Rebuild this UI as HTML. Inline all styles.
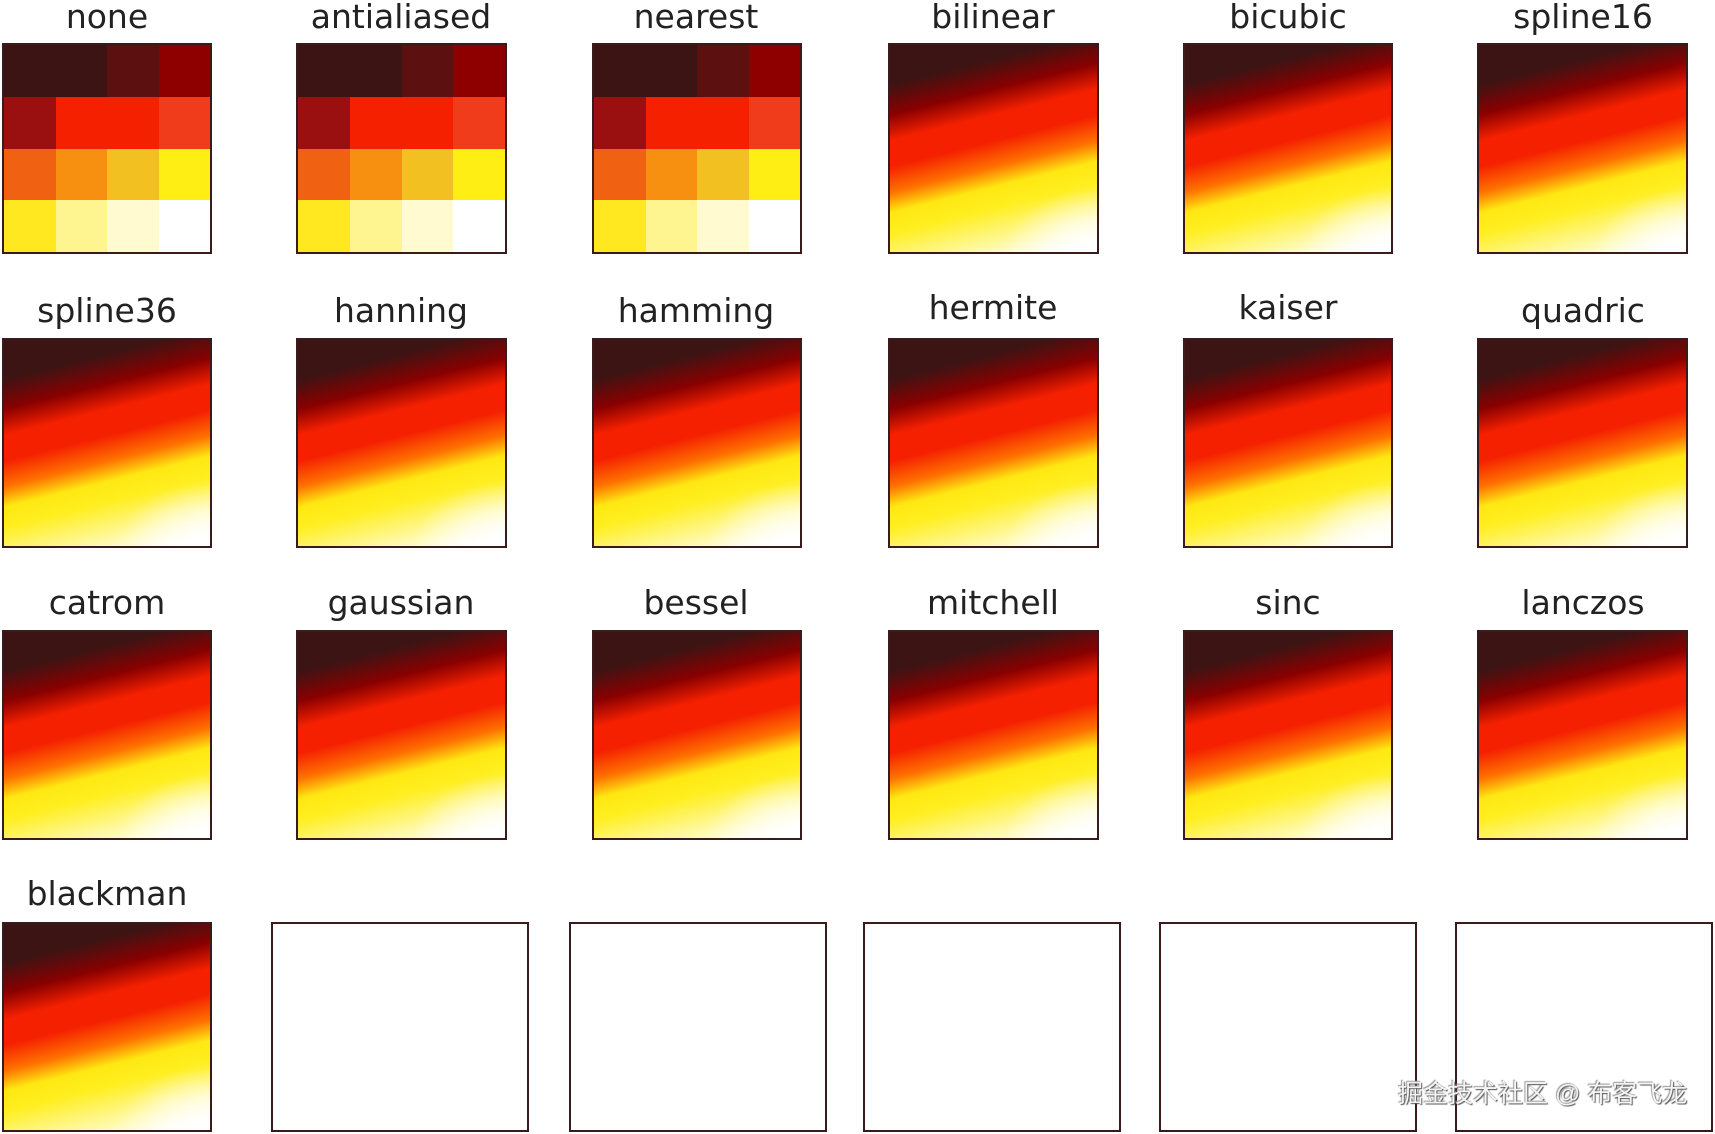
<!DOCTYPE html>
<html><head><meta charset="utf-8"><style>
html,body{margin:0;padding:0;background:#fff;}
body{width:1715px;height:1134px;position:relative;overflow:hidden;font-family:"DejaVu Sans","Liberation Sans",sans-serif;}
.b{position:absolute;box-sizing:border-box;border:2px solid #3a1a1a;}
.t{position:absolute;width:300px;text-align:center;font-size:33px;color:#222;line-height:1;}
.g{background:radial-gradient(ellipse 45% 30% at 100% 100%,#ffffff 0%,rgba(255,255,255,0.6) 50%,rgba(255,255,255,0) 100%),linear-gradient(166deg,#3c1414 0%,#3c1414 15%,#8a0000 27%,#f42000 37%,#f42000 47%,#ff7000 57%,#ffe812 65%,#ffee20 73%,#fff8a0 87%,#ffffff 97%);}
.n{background:#fff;}
.p{display:grid;grid-template-columns:repeat(4,1fr);grid-template-rows:repeat(4,1fr);}
.wm{position:absolute;left:1398px;top:1074px;font-family:"Liberation Sans","Noto Sans CJK SC",sans-serif;font-size:25px;color:#f4f4f4;text-shadow:1px 1px 1px #555,-1px -1px 1px #999;}
</style></head><body>
<div class="t" style="left:-43px;top:0px">none</div>
<div class="t" style="left:251px;top:0px">antialiased</div>
<div class="t" style="left:546px;top:0px">nearest</div>
<div class="t" style="left:843px;top:0px">bilinear</div>
<div class="t" style="left:1138px;top:0px">bicubic</div>
<div class="t" style="left:1433px;top:0px">spline16</div>
<div class="t" style="left:-43px;top:294px">spline36</div>
<div class="t" style="left:251px;top:294px">hanning</div>
<div class="t" style="left:546px;top:294px">hamming</div>
<div class="t" style="left:843px;top:291px">hermite</div>
<div class="t" style="left:1138px;top:291px">kaiser</div>
<div class="t" style="left:1433px;top:294px">quadric</div>
<div class="t" style="left:-43px;top:586px">catrom</div>
<div class="t" style="left:251px;top:586px">gaussian</div>
<div class="t" style="left:546px;top:586px">bessel</div>
<div class="t" style="left:843px;top:586px">mitchell</div>
<div class="t" style="left:1138px;top:586px">sinc</div>
<div class="t" style="left:1433px;top:586px">lanczos</div>
<div class="t" style="left:-43px;top:877px">blackman</div>

<div class="b p" style="left:2px;top:43px;width:210px;height:211px">
<div style="background:#3c1414"></div><div style="background:#3c1414"></div><div style="background:#5c1010"></div><div style="background:#8e0000"></div>
<div style="background:#9a1010"></div><div style="background:#f42000"></div><div style="background:#f42000"></div><div style="background:#f03c1a"></div>
<div style="background:#f06212"></div><div style="background:#f79010"></div><div style="background:#f2c020"></div><div style="background:#ffee14"></div>
<div style="background:#ffe820"></div><div style="background:#fff590"></div><div style="background:#fffad0"></div><div style="background:#ffffff"></div>
</div>
<div class="b p" style="left:296px;top:43px;width:211px;height:211px">
<div style="background:#3c1414"></div><div style="background:#3c1414"></div><div style="background:#5c1010"></div><div style="background:#8e0000"></div>
<div style="background:#9a1010"></div><div style="background:#f42000"></div><div style="background:#f42000"></div><div style="background:#f03c1a"></div>
<div style="background:#f06212"></div><div style="background:#f79010"></div><div style="background:#f2c020"></div><div style="background:#ffee14"></div>
<div style="background:#ffe820"></div><div style="background:#fff590"></div><div style="background:#fffad0"></div><div style="background:#ffffff"></div>
</div>
<div class="b p" style="left:592px;top:43px;width:210px;height:211px">
<div style="background:#3c1414"></div><div style="background:#3c1414"></div><div style="background:#5c1010"></div><div style="background:#8e0000"></div>
<div style="background:#9a1010"></div><div style="background:#f42000"></div><div style="background:#f42000"></div><div style="background:#f03c1a"></div>
<div style="background:#f06212"></div><div style="background:#f79010"></div><div style="background:#f2c020"></div><div style="background:#ffee14"></div>
<div style="background:#ffe820"></div><div style="background:#fff590"></div><div style="background:#fffad0"></div><div style="background:#ffffff"></div>
</div>
<div class="b g" style="left:888px;top:43px;width:211px;height:211px"></div>
<div class="b g" style="left:1183px;top:43px;width:210px;height:211px"></div>
<div class="b g" style="left:1477px;top:43px;width:211px;height:211px"></div>

<div class="b g" style="left:2px;top:338px;width:210px;height:210px"></div>
<div class="b g" style="left:296px;top:338px;width:211px;height:210px"></div>
<div class="b g" style="left:592px;top:338px;width:210px;height:210px"></div>
<div class="b g" style="left:888px;top:338px;width:211px;height:210px"></div>
<div class="b g" style="left:1183px;top:338px;width:210px;height:210px"></div>
<div class="b g" style="left:1477px;top:338px;width:211px;height:210px"></div>

<div class="b g" style="left:2px;top:630px;width:210px;height:210px"></div>
<div class="b g" style="left:296px;top:630px;width:211px;height:210px"></div>
<div class="b g" style="left:592px;top:630px;width:210px;height:210px"></div>
<div class="b g" style="left:888px;top:630px;width:211px;height:210px"></div>
<div class="b g" style="left:1183px;top:630px;width:210px;height:210px"></div>
<div class="b g" style="left:1477px;top:630px;width:211px;height:210px"></div>

<div class="b g" style="left:2px;top:922px;width:210px;height:210px"></div>
<div class="b n" style="left:271px;top:922px;width:258px;height:210px"></div>
<div class="b n" style="left:569px;top:922px;width:258px;height:210px"></div>
<div class="b n" style="left:863px;top:922px;width:258px;height:210px"></div>
<div class="b n" style="left:1159px;top:922px;width:258px;height:210px"></div>
<div class="b n" style="left:1455px;top:922px;width:258px;height:210px"></div>

<div class="wm">掘金技术社区 @ 布客飞龙</div>
</body></html>
